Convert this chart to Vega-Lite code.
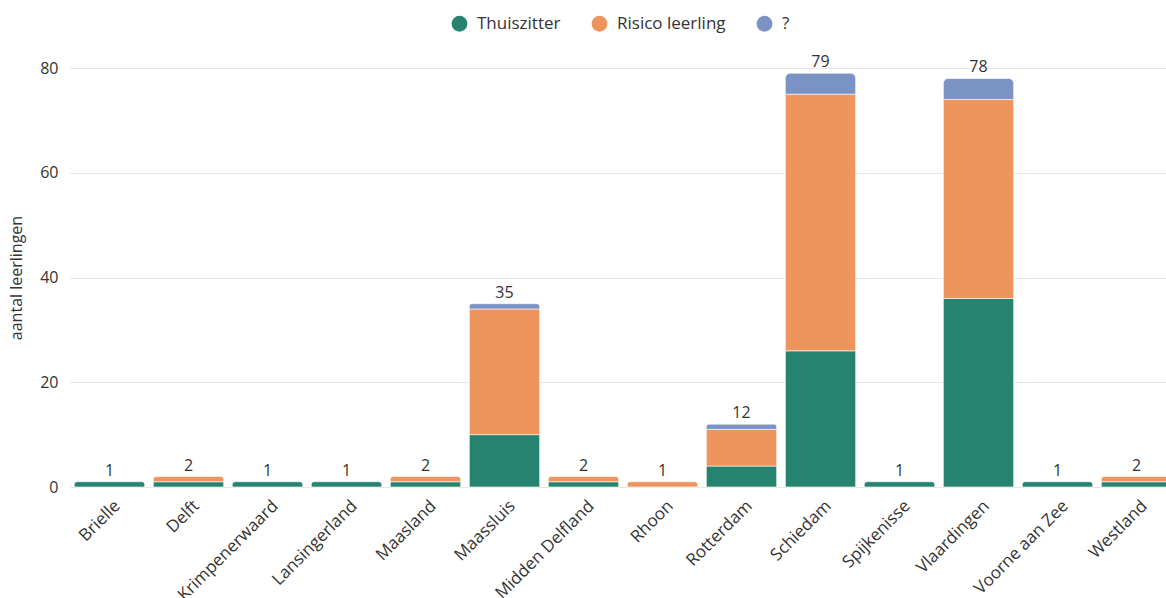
{
  "$schema": "https://vega.github.io/schema/vega-lite/v6.json",
  "width": 1106,
  "height": 419,
  "autosize": {"type": "none"},
  "padding": {"left": 70, "top": 68, "right": -10, "bottom": 111},
  "background": "#ffffff",
  "config": {
    "font": "Open Sans",
    "view": {"stroke": null},
    "axis": {"labelColor": "#333333", "titleColor": "#333333", "labelFont": "Open Sans", "titleFont": "Open Sans"}
  },
  "data": {
    "values": [
      {"gemeente": "Brielle", "categorie": "Thuiszitter", "aantal": 1},
      {"gemeente": "Delft", "categorie": "Thuiszitter", "aantal": 1},
      {"gemeente": "Delft", "categorie": "Risico leerling", "aantal": 1},
      {"gemeente": "Krimpenerwaard", "categorie": "Thuiszitter", "aantal": 1},
      {"gemeente": "Lansingerland", "categorie": "Thuiszitter", "aantal": 1},
      {"gemeente": "Maasland", "categorie": "Thuiszitter", "aantal": 1},
      {"gemeente": "Maasland", "categorie": "Risico leerling", "aantal": 1},
      {"gemeente": "Maassluis", "categorie": "Thuiszitter", "aantal": 10},
      {"gemeente": "Maassluis", "categorie": "Risico leerling", "aantal": 24},
      {"gemeente": "Maassluis", "categorie": "?", "aantal": 1},
      {"gemeente": "Midden Delfland", "categorie": "Thuiszitter", "aantal": 1},
      {"gemeente": "Midden Delfland", "categorie": "Risico leerling", "aantal": 1},
      {"gemeente": "Rhoon", "categorie": "Risico leerling", "aantal": 1},
      {"gemeente": "Rotterdam", "categorie": "Thuiszitter", "aantal": 4},
      {"gemeente": "Rotterdam", "categorie": "Risico leerling", "aantal": 7},
      {"gemeente": "Rotterdam", "categorie": "?", "aantal": 1},
      {"gemeente": "Schiedam", "categorie": "Thuiszitter", "aantal": 26},
      {"gemeente": "Schiedam", "categorie": "Risico leerling", "aantal": 49},
      {"gemeente": "Schiedam", "categorie": "?", "aantal": 4},
      {"gemeente": "Spijkenisse", "categorie": "Thuiszitter", "aantal": 1},
      {"gemeente": "Vlaardingen", "categorie": "Thuiszitter", "aantal": 36},
      {"gemeente": "Vlaardingen", "categorie": "Risico leerling", "aantal": 38},
      {"gemeente": "Vlaardingen", "categorie": "?", "aantal": 4},
      {"gemeente": "Voorne aan Zee", "categorie": "Thuiszitter", "aantal": 1},
      {"gemeente": "Westland", "categorie": "Thuiszitter", "aantal": 1},
      {"gemeente": "Westland", "categorie": "Risico leerling", "aantal": 1}
    ]
  },
  "transform": [
    {"stack": "aantal", "groupby": ["gemeente"], "sort": [{"field": "categorie", "order": "descending"}], "as": ["y0", "y1"]},
    {"joinaggregate": [{"op": "sum", "field": "aantal", "as": "totaal"}], "groupby": ["gemeente"]}
  ],
  "encoding": {
    "x": {
      "field": "gemeente",
      "type": "nominal",
      "sort": ["Brielle", "Delft", "Krimpenerwaard", "Lansingerland", "Maasland", "Maassluis", "Midden Delfland", "Rhoon", "Rotterdam", "Schiedam", "Spijkenisse", "Vlaardingen", "Voorne aan Zee", "Westland"],
      "scale": {"paddingInner": 0.11, "paddingOuter": 0.055},
      "axis": {"title": null, "labelAngle": -45, "labelAlign": "right", "labelBaseline": "middle", "labelFontSize": 17, "labelPadding": 16, "labelOffset": 8, "ticks": false, "domain": false, "grid": false}
    }
  },
  "layer": [
    {
      "transform": [{"filter": "datum.y1 < datum.totaal"}],
      "mark": {"type": "bar", "stroke": "#ffffff", "strokeWidth": 0.6},
      "encoding": {
        "y": {
          "field": "y0", "type": "quantitative",
          "scale": {"domain": [0, 80], "nice": false},
          "axis": {"title": "aantal leerlingen", "titleFontSize": 16, "titleFontWeight": "normal", "titlePadding": 15, "labelFontSize": 16, "labelPadding": 12, "values": [0, 20, 40, 60, 80], "ticks": false, "domain": false, "gridColor": "#e6e6e6"}
        },
        "y2": {"field": "y1"},
        "color": {
          "field": "categorie", "type": "nominal",
          "scale": {"domain": ["Thuiszitter", "Risico leerling", "?"], "range": ["#25836f", "#ee955e", "#7b92c5"]},
          "legend": {"title": null, "orient": "none", "direction": "horizontal", "legendX": 381, "legendY": -53, "symbolType": "circle", "symbolSize": 250, "symbolStrokeWidth": 0, "labelFontSize": 17, "labelColor": "#333333", "labelFont": "Open Sans", "labelOffset": 9, "columnPadding": 30, "padding": 0}
        }
      }
    },
    {
      "transform": [{"filter": "datum.y1 == datum.totaal"}],
      "mark": {"type": "bar", "stroke": "#ffffff", "strokeWidth": 0.6, "cornerRadiusTopLeft": 5, "cornerRadiusTopRight": 5},
      "encoding": {
        "y": {"field": "y0", "type": "quantitative"},
        "y2": {"field": "y1"},
        "color": {"field": "categorie", "type": "nominal"}
      }
    },
    {
      "transform": [{"filter": "datum.y1 == datum.totaal"}],
      "mark": {"type": "text", "baseline": "bottom", "dy": -3, "fontSize": 16, "color": "#333333", "font": "Open Sans"},
      "encoding": {
        "y": {"field": "y1", "type": "quantitative"},
        "text": {"field": "totaal", "type": "quantitative"}
      }
    }
  ]
}
